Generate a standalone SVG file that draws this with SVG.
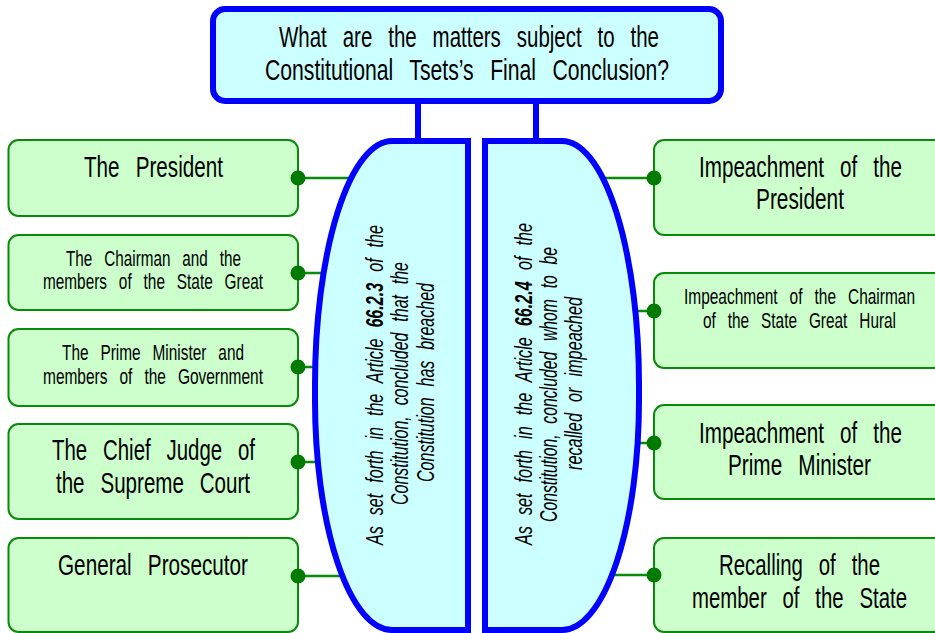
<svg xmlns="http://www.w3.org/2000/svg" width="935" height="633" viewBox="0 0 935 633">
  <style>
    text { font-family: "Liberation Sans", Arial, sans-serif; fill: #000; word-spacing: 0.5em; }
    .big { font-size: 30px; }
    .small { font-size: 22px; }
    .rot { font-size: 23px; font-style: italic; word-spacing: 0.4em; }
    .num { font-weight: bold; }
    .title-box { fill: #ccffff; stroke: #0000ff; stroke-width: 6; }
    .stem { stroke: #0000ff; stroke-width: 6; fill: none; }
    .basis { fill: #ccffff; stroke: #0000ff; stroke-width: 6; }
    .item { fill: #ccffcc; stroke: #0a8a0a; stroke-width: 2; }
    .link { stroke: #0a8a0a; stroke-width: 2.5; fill: none; }
    .dot { fill: #007a00; }
  </style>

  <!-- question at the top -->
  <g id="question">
    <rect class="title-box" x="213" y="9" width="508" height="92" rx="12" ry="12"/>
    <text class="big" x="279" y="47" textLength="380" lengthAdjust="spacingAndGlyphs">What are the matters subject to the</text>
    <text class="big" x="265" y="80" textLength="404" lengthAdjust="spacingAndGlyphs">Constitutional Tsets’s Final Conclusion?</text>
  </g>

  <!-- connectors -->
  <g id="connectors">
    <line class="stem" x1="418" y1="101" x2="418" y2="142"/>
    <line class="stem" x1="536" y1="101" x2="536" y2="142"/>
    <line class="link" x1="298" y1="178" x2="400" y2="178"/>
    <line class="link" x1="298" y1="273" x2="400" y2="273"/>
    <line class="link" x1="298" y1="367" x2="400" y2="367"/>
    <line class="link" x1="298" y1="462" x2="400" y2="462"/>
    <line class="link" x1="298" y1="576" x2="400" y2="576"/>
    <line class="link" x1="560" y1="178" x2="654" y2="178"/>
    <line class="link" x1="560" y1="311" x2="654" y2="311"/>
    <line class="link" x1="560" y1="443" x2="654" y2="443"/>
    <line class="link" x1="560" y1="575" x2="654" y2="575"/>
  </g>

  <!-- left basis: Article 66.2.3 -->
  <g id="basis-breach">
    <path class="basis" d="M468,141 H392 A77,244 0 0 0 315,385 V400 A77,230 0 0 0 392,630 H468 Z"/>
    <text class="rot" transform="translate(383,385) rotate(-90)" x="-160" y="0" textLength="320" lengthAdjust="spacingAndGlyphs">As set forth in the Article <tspan class="num">66.2.3</tspan> of the</text>
    <text class="rot" transform="translate(408,383.5) rotate(-90)" x="-121.5" y="0" textLength="243" lengthAdjust="spacingAndGlyphs">Constitution, concluded that the</text>
    <text class="rot" transform="translate(434,382.5) rotate(-90)" x="-99.5" y="0" textLength="199" lengthAdjust="spacingAndGlyphs">Constitution has breached</text>
  </g>

  <!-- right basis: Article 66.2.4 -->
  <g id="basis-impeach">
    <path class="basis" d="M485,141 H562 A77,244 0 0 1 639,385 V400 A77,230 0 0 1 562,630 H485 Z"/>
    <text class="rot" transform="translate(532,384) rotate(-90)" x="-161" y="0" textLength="322" lengthAdjust="spacingAndGlyphs">As set forth in the Article <tspan class="num">66.2.4</tspan> of the</text>
    <text class="rot" transform="translate(557,384.5) rotate(-90)" x="-137.5" y="0" textLength="275" lengthAdjust="spacingAndGlyphs">Constitution, concluded whom to be</text>
    <text class="rot" transform="translate(582,383.5) rotate(-90)" x="-86.5" y="0" textLength="173" lengthAdjust="spacingAndGlyphs">recalled or impeached</text>
  </g>

  <!-- left column -->
  <g id="president">
    <rect class="item" x="8.5" y="140" width="289.5" height="76" rx="10" ry="10"/>
    <circle class="dot" cx="298" cy="178" r="7.5"/>
    <text class="big" x="84" y="177" textLength="139" lengthAdjust="spacingAndGlyphs">The President</text>
  </g>
  <g id="chairman">
    <rect class="item" x="8.5" y="235" width="289.5" height="75" rx="10" ry="10"/>
    <circle class="dot" cx="298" cy="273" r="7.5"/>
    <text class="small" x="66" y="266" textLength="175" lengthAdjust="spacingAndGlyphs">The Chairman and the</text>
    <text class="small" x="43" y="289" textLength="220" lengthAdjust="spacingAndGlyphs">members of the State Great</text>
  </g>
  <g id="prime-minister">
    <rect class="item" x="8.5" y="329" width="289.5" height="77" rx="10" ry="10"/>
    <circle class="dot" cx="298" cy="367" r="7.5"/>
    <text class="small" x="62" y="360" textLength="182" lengthAdjust="spacingAndGlyphs">The Prime Minister and</text>
    <text class="small" x="43" y="384" textLength="220" lengthAdjust="spacingAndGlyphs">members of the Government</text>
  </g>
  <g id="chief-judge">
    <rect class="item" x="8.5" y="424" width="289.5" height="95" rx="10" ry="10"/>
    <circle class="dot" cx="298" cy="462" r="7.5"/>
    <text class="big" x="52" y="460" textLength="203" lengthAdjust="spacingAndGlyphs">The Chief Judge of</text>
    <text class="big" x="56" y="493" textLength="194" lengthAdjust="spacingAndGlyphs">the Supreme Court</text>
  </g>
  <g id="prosecutor">
    <rect class="item" x="8.5" y="538" width="289.5" height="94" rx="10" ry="10"/>
    <circle class="dot" cx="298" cy="576" r="7.5"/>
    <text class="big" x="58" y="575" textLength="190" lengthAdjust="spacingAndGlyphs">General Prosecutor</text>
  </g>

  <!-- right column: boxes run past the right edge -->
  <g id="impeach-president">
    <rect class="item" x="654" y="140" width="300" height="95" rx="10" ry="10"/>
    <circle class="dot" cx="654" cy="178" r="7.5"/>
    <text class="big" x="699" y="177" textLength="203" lengthAdjust="spacingAndGlyphs">Impeachment of the</text>
    <text class="big" x="756" y="209" textLength="88" lengthAdjust="spacingAndGlyphs">President</text>
  </g>
  <g id="impeach-chairman">
    <rect class="item" x="654" y="273" width="300" height="95" rx="10" ry="10"/>
    <circle class="dot" cx="654" cy="311" r="7.5"/>
    <text class="small" x="684" y="304" textLength="231" lengthAdjust="spacingAndGlyphs">Impeachment of the Chairman</text>
    <text class="small" x="703" y="328" textLength="193" lengthAdjust="spacingAndGlyphs">of the State Great Hural</text>
  </g>
  <g id="impeach-prime-minister">
    <rect class="item" x="654" y="405" width="300" height="94" rx="10" ry="10"/>
    <circle class="dot" cx="654" cy="443" r="7.5"/>
    <text class="big" x="699" y="443" textLength="203" lengthAdjust="spacingAndGlyphs">Impeachment of the</text>
    <text class="big" x="728" y="475" textLength="143" lengthAdjust="spacingAndGlyphs">Prime Minister</text>
  </g>
  <g id="recall-member">
    <rect class="item" x="654" y="538" width="300" height="94" rx="10" ry="10"/>
    <circle class="dot" cx="654" cy="575" r="7.5"/>
    <text class="big" x="719" y="575" textLength="161" lengthAdjust="spacingAndGlyphs">Recalling of the</text>
    <text class="big" x="692" y="608" textLength="215" lengthAdjust="spacingAndGlyphs">member of the State</text>
  </g>
</svg>
